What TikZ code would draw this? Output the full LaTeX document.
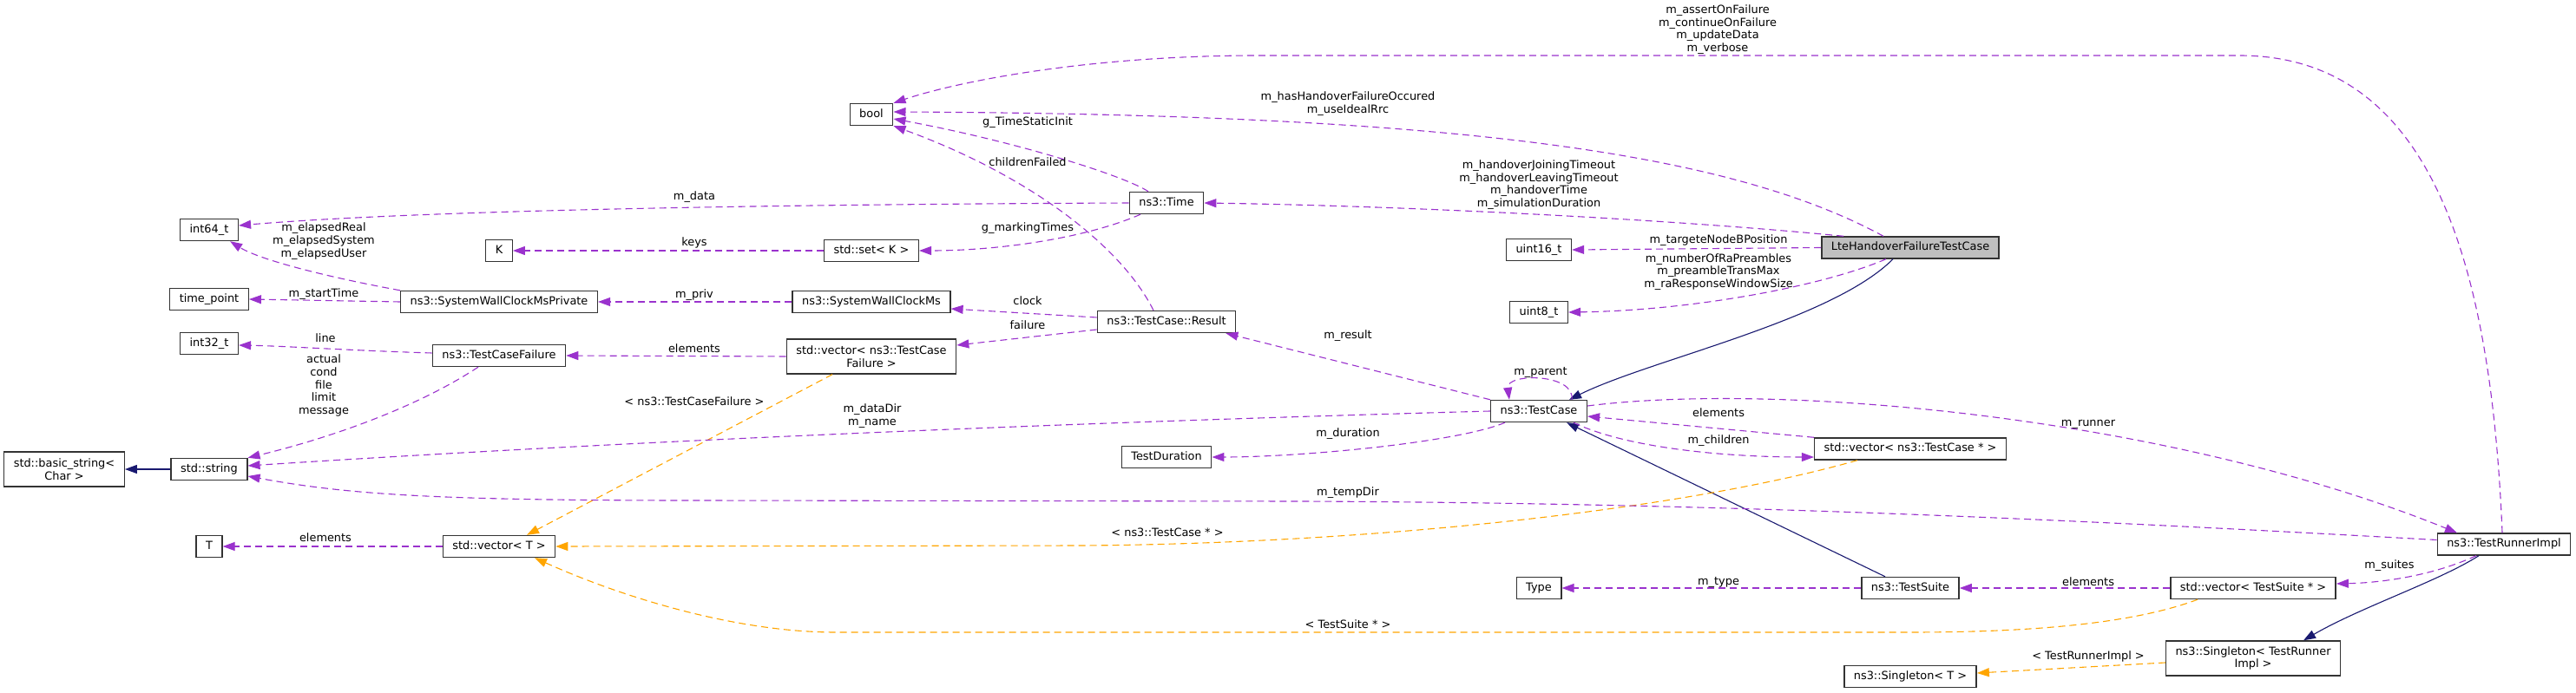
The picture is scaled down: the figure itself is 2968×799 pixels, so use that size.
\documentclass[tikz,border=0pt]{standalone}
\usepackage{fontspec}
\setmainfont{DejaVu Sans}
\usepackage{tikz}
\usetikzlibrary{arrows.meta,positioning}
\definecolor{usagecol}{RGB}{154,50,205}
\definecolor{tmplcol}{RGB}{255,165,0}
\definecolor{inhcol}{RGB}{25,25,112}
\definecolor{focusgrey}{RGB}{191,191,191}
\newcommand{\dxfont}{\fontsize{12.9}{14.7}\selectfont}
\tikzset{%
	classbox/.style  = {draw=black!80, line width=1.4pt, fill=white, font=\dxfont, inner xsep=11pt, inner ysep=0pt, minimum height=25pt, text height=9.5pt, text depth=3pt},
	classtwo/.style  = {draw=black!80, line width=1.4pt, fill=white, font=\dxfont, align=center, inner xsep=11pt, inner ysep=2pt, minimum height=40pt},
	focusbox/.style  = {classbox, fill=focusgrey},
	lbl/.style       = {font=\dxfont, align=center, inner sep=0pt},
	usage/.style     = {draw=usagecol, line width=1.1pt, dash pattern=on 8pt off 5pt, -{Triangle[length=14pt,width=10pt]}},
	templ/.style     = {draw=tmplcol, line width=1.1pt, dash pattern=on 8pt off 5pt, -{Triangle[length=14pt,width=10pt]}},
	inherit/.style   = {draw=inhcol, line width=1.1pt, -{Triangle[length=14pt,width=10pt]}},
}
\begin{document}
\begin{tikzpicture}[x=1pt,y=-1pt]
		\useasboundingbox (0,0) rectangle (2968,799);
		\node[classtwo] (basicstr) at (74,541) {std::basic\_string<\\Char >};
		\node[classbox] (stdstr) at (241,541) {std::string};
		\node[classbox] (int64) at (241,265) {int64\_t};
		\node[classbox] (timept) at (241,345) {time\_point};
		\node[classbox] (int32) at (241,396) {int32\_t};
		\node[classbox] (tT) at (241,630) {T};
		\node[classbox] (kK) at (575,289) {K};
		\node[classbox] (swcpriv) at (575,348) {ns3::SystemWallClockMsPrivate};
		\node[classbox] (tcfail) at (575,410) {ns3::TestCaseFailure};
		\node[classbox] (vecT) at (575,630) {std::vector< T >};
		\node[classbox] (bool) at (1004,132) {bool};
		\node[classbox] (setK) at (1004,289) {std::set< K >};
		\node[classbox] (swc) at (1004,348) {ns3::SystemWallClockMs};
		\node[classtwo] (vecfail) at (1004,411) {std::vector< ns3::TestCase\\Failure >};
		\node[classbox] (time) at (1344,234) {ns3::Time};
		\node[classbox] (result) at (1344,371) {ns3::TestCase::Result};
		\node[classbox] (duration) at (1344,527) {TestDuration};
		\node[classbox] (uint16) at (1773,288) {uint16\_t};
		\node[classbox] (uint8) at (1773,360) {uint8\_t};
		\node[classbox] (tcase) at (1773,474) {ns3::TestCase};
		\node[classbox] (type) at (1773,678) {Type};
		\node[focusbox] (lhf) at (2201,285.5) {LteHandoverFailureTestCase};
		\node[classbox] (vectc) at (2201,517.5) {std::vector< ns3::TestCase * >};
		\node[classbox] (suite) at (2201,678) {ns3::TestSuite};
		\node[classbox] (singT) at (2201,780) {ns3::Singleton< T >};
		\node[classbox] (vecsuite) at (2596,678) {std::vector< TestSuite * >};
		\node[classtwo] (singR) at (2596,759) {ns3::Singleton< TestRunner\\Impl >};
		\node[classbox] (runner) at (2885,627.5) {ns3::TestRunnerImpl};
		
		\draw[inherit] ([xshift=-20pt]lhf.south) .. controls (2110,370) and (1900,415) .. ([xshift=35pt]tcase.north);
		\draw[inherit] ([xshift=-29pt]suite.north) -- ([xshift=32pt]tcase.south);
		\draw[inherit] (stdstr.west) -- (basicstr.east);
		\draw[inherit] ([xshift=-29pt]runner.south) .. controls (2810,670) and (2720,700) .. ([xshift=58pt]singR.north);
		
		\draw[templ] ([yshift=-5pt]singR.west) -- ([yshift=4pt]singT.east);
		\draw[templ] ([xshift=-64pt]vecsuite.south) .. controls (2450,722) and (2320,729) .. (2200,729) -- (963,729) .. controls (850,729) and (720,690) .. ([xshift=41pt]vecT.south);
		\draw[templ] ([xshift=-61pt]vectc.south) .. controls (1950,585) and (1600,626) .. (1250,629) -- (vecT.east);
		\draw[templ] ([xshift=-45pt]vecfail.south) -- ([xshift=32pt]vecT.north);
		
		\draw[usage] (vecT.west) -- (tT.east);
		\draw[usage] ([xshift=-24pt]tcfail.south) .. controls (480,470) and (380,505) .. (stdstr.north east);
		\draw[usage] (tcase.west) .. controls (1200,488) and (700,510) .. ([yshift=4pt]stdstr.east);
		\draw[usage] ([yshift=5pt]runner.west) .. controls (2400,600) and (2000,580) .. (1500,578) -- (800,577) .. controls (500,577) and (400,570) .. ([yshift=-8pt]stdstr.east);
		\draw[usage] (time.west) .. controls (800,236) and (450,245) .. ([yshift=5pt]int64.east);
		\draw[usage] (swcpriv.north west) .. controls (380,320) and (300,300) .. ([xshift=-10pt]int64.south east);
		\draw[usage] (swcpriv.west) -- (timept.east);
		\draw[usage] (setK.west) -- (kK.east);
		\draw[usage] (swc.west) -- (swcpriv.east);
		\draw[usage] ([yshift=3pt]tcfail.west) .. controls (400,404) and (330,399) .. ([yshift=-2pt]int32.east);
		\draw[usage] (vecfail.west) -- (tcfail.east);
		\draw[usage] ([xshift=-21pt]time.north) .. controls (1300,205) and (1180,165) .. ([yshift=-5pt]bool.east);
		\draw[usage] ([xshift=-15pt]result.north) .. controls (1290,280) and (1180,200) .. (bool.south east);
		\draw[usage] ([xshift=-30pt]time.south) .. controls (1250,275) and (1150,289) .. (setK.east);
		\draw[usage] ([yshift=5pt]result.west) -- ([yshift=-8pt]swc.east);
		\draw[usage] ([yshift=-9pt]result.west) -- ([yshift=13pt]vecfail.east);
		\draw[usage] (tcase.north west) -- ([xshift=-12pt]result.south east);
		\draw[usage] ([xshift=-39pt]tcase.south) .. controls (1680,510) and (1500,527) .. (duration.east);
		\draw[usage] ([xshift=38pt]tcase.north) .. controls (1815,430) and (1735,430) .. ([xshift=-34pt]tcase.north);
		\draw[usage] (vectc.north west) -- ([yshift=-6pt]tcase.east);
		\draw[usage] ([xshift=40pt]tcase.south) .. controls (1870,515) and (1980,527) .. ([yshift=-9.5pt]vectc.west);
		\draw[usage] ([yshift=6pt]tcase.east) .. controls (2050,440) and (2500,480) .. ([xshift=-54pt]runner.north);
		\draw[usage] ([xshift=-32pt]runner.south) .. controls (2800,665) and (2740,672) .. ([yshift=5pt]vecsuite.east);
		\draw[usage] (vecsuite.west) -- (suite.east);
		\draw[usage] (suite.west) -- (type.east);
		\draw[usage] ([xshift=-2pt]runner.north) .. controls (2870,300) and (2800,64) .. (2580,64) -- (1450,64) .. controls (1250,64) and (1100,95) .. (bool.north east);
		\draw[usage] ([xshift=-31pt]lhf.north) .. controls (2000,180) and (1700,132) .. ([yshift=3pt]bool.east);
		\draw[usage] ([xshift=-77pt]lhf.north) .. controls (1950,255) and (1650,238) .. (time.east);
		\draw[usage] (lhf.west) -- (uint16.east);
		\draw[usage] ([xshift=-28pt]lhf.south) .. controls (2100,330) and (1950,358) .. (uint8.east);
		
		\node[lbl] (l-elapsed) at (373,278) {m\_elapsedReal\\m\_elapsedSystem\\m\_elapsedUser};
		\node[lbl] (l-start) at (373,339) {m\_startTime};
		\node[lbl] (l-line) at (375,390) {line};
		\node[lbl] (l-actual) at (373,444.5) {actual\\cond\\file\\limit\\message};
		\node[lbl] (l-elemT) at (375,620) {elements};
		\node[lbl] (l-data) at (800,227) {m\_data};
		\node[lbl] (l-keys) at (800,280) {keys};
		\node[lbl] (l-priv) at (800,340) {m\_priv};
		\node[lbl] (l-elemfail) at (800,402) {elements};
		\node[lbl] (l-tcfail) at (800,463) {< ns3::TestCaseFailure >};
		\node[lbl] (l-static) at (1184,141) {g\_TimeStaticInit};
		\node[lbl] (l-children) at (1184,187) {childrenFailed};
		\node[lbl] (l-marking) at (1184,263) {g\_markingTimes};
		\node[lbl] (l-clock) at (1184,347) {clock};
		\node[lbl] (l-failure) at (1184,375) {failure};
		\node[lbl] (l-datadir) at (1005,479.5) {m\_dataDir\\m\_name};
		\node[lbl] (l-tcptr) at (1345,614) {< ns3::TestCase * >};
		\node[lbl] (l-assert) at (1979,34) {m\_assertOnFailure\\m\_continueOnFailure\\m\_updateData\\m\_verbose};
		\node[lbl] (l-hasho) at (1553,119.5) {m\_hasHandoverFailureOccured\\m\_useIdealRrc};
		\node[lbl] (l-hotime) at (1773,213) {m\_handoverJoiningTimeout\\m\_handoverLeavingTimeout\\m\_handoverTime\\m\_simulationDuration};
		\node[lbl] (l-target) at (1980,277) {m\_targeteNodeBPosition};
		\node[lbl] (l-rapre) at (1980,313.5) {m\_numberOfRaPreambles\\m\_preambleTransMax\\m\_raResponseWindowSize};
		\node[lbl] (l-result) at (1553,387) {m\_result};
		\node[lbl] (l-parent) at (1775,429) {m\_parent};
		\node[lbl] (l-duration) at (1553,500) {m\_duration};
		\node[lbl] (l-elemtc) at (1980,476) {elements};
		\node[lbl] (l-childr) at (1980,508) {m\_children};
		\node[lbl] (l-temp) at (1553,568) {m\_tempDir};
		\node[lbl] (l-type) at (1980,671) {m\_type};
		\node[lbl] (l-tsptr) at (1553,720) {< TestSuite * >};
		\node[lbl] (l-runner) at (2406,489) {m\_runner};
		\node[lbl] (l-suites) at (2753,652) {m\_suites};
		\node[lbl] (l-elemsuite) at (2406,671) {elements};
		\node[lbl] (l-trimpl) at (2406,757) {< TestRunnerImpl >};
		\end{tikzpicture}
\end{document}
